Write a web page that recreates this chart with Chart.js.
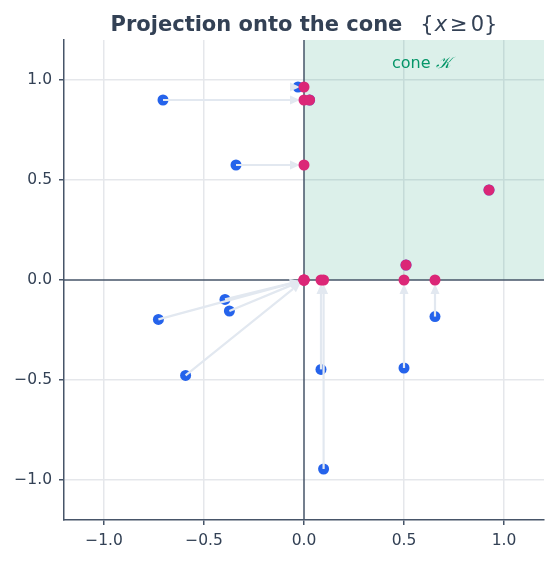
<!DOCTYPE html>
<html>
<head>
<meta charset="utf-8">
<script src="https://cdn.jsdelivr.net/npm/chart.js@4.4.1/dist/chart.umd.min.js"></script>
<style>
  html, body { margin: 0; padding: 0; background: #ffffff; }
  canvas { display: block; }
</style>
</head>
<body>
<canvas id="coneChart" width="556" height="562"></canvas>
<script>
// original points (blue) and their projections onto {x >= 0} (pink)
const origX = [-0.705, -0.03, 0.028, -0.34, 0.925, 0.51, -0.395, -0.373, -0.728, -0.592, 0.085, 0.098, 0.5, 0.655];
const origY = [0.9, 0.965, 0.9, 0.575, 0.45, 0.075, -0.097, -0.155, -0.197, -0.477, -0.447, -0.945, -0.44, -0.183];
const projX = [0, 0, 0.028, 0, 0.925, 0.51, 0, 0, 0, 0, 0.085, 0.098, 0.5, 0.655];
const projY = [0.9, 0.965, 0.9, 0.575, 0.45, 0.075, 0, 0, 0, 0, 0, 0, 0, 0];
const tickValues = [-1, -0.5, 0, 0.5, 1];

const BLUE = '#2563eb';
const PINK = '#db2777';
const SLATE = '#334155';
const AXIS = '#475569';
const GRID = '#e5e7eb';

const fmt = v => v.toFixed(1).replace('-', '\u2212');

const conePlugin = {
    id: 'cone',
    beforeDatasetsDraw(chart) {
        const {ctx, chartArea: a, scales: {x, y}} = chart;
        const x0 = x.getPixelForValue(0);
        const y0 = y.getPixelForValue(0);
        ctx.save();
        ctx.fillStyle = 'rgba(5,150,105,0.14)';
        ctx.fillRect(x0, a.top, a.right - x0, y0 - a.top);

        ctx.strokeStyle = AXIS;
        ctx.lineWidth = 1.5;
        ctx.beginPath();
        ctx.moveTo(x0, a.top); ctx.lineTo(x0, a.bottom);
        ctx.moveTo(a.left, y0); ctx.lineTo(a.right, y0);
        ctx.stroke();

        ctx.fillStyle = '#059669';
        ctx.textBaseline = 'middle';
        ctx.textAlign = 'left';
        ctx.font = '16px "DejaVu Sans"';
        const lx = x.getPixelForValue(0.44);
        const ly = y.getPixelForValue(1.08);
        ctx.fillText('cone ', lx, ly);
        const w = ctx.measureText('cone ').width;
        ctx.font = 'italic 16px "DejaVu Serif"';
        ctx.fillText('\u{1D4A6}', lx + w, ly);
        ctx.restore();
    }
};

const arrowPlugin = {
    id: 'arrows',
    afterDatasetDraw(chart, args) {
        if (args.index !== 1) return;
        const {ctx, scales: {x, y}} = chart;
        ctx.save();
        ctx.strokeStyle = '#e2e8f0';
        ctx.fillStyle = '#e2e8f0';
        ctx.lineWidth = 2.2;
        const headLen = 10, headW = 4.5, shrink = 4;
        for (let i = 0; i < origX.length; i++) {
            if (origX[i] === projX[i] && origY[i] === projY[i]) continue;
            const sx = x.getPixelForValue(origX[i]);
            const sy = y.getPixelForValue(origY[i]);
            const tx = x.getPixelForValue(projX[i]);
            const ty = y.getPixelForValue(projY[i]);
            const dx = tx - sx, dy = ty - sy;
            const len = Math.hypot(dx, dy);
            const ux = dx / len, uy = dy / len;
            const ex = tx - ux * shrink, ey = ty - uy * shrink;
            const bx = ex - ux * headLen, by = ey - uy * headLen;
            if (len > headLen + shrink) {
                ctx.beginPath();
                ctx.moveTo(sx, sy);
                ctx.lineTo(bx, by);
                ctx.stroke();
            }
            ctx.beginPath();
            ctx.moveTo(ex, ey);
            ctx.lineTo(bx - uy * headW, by + ux * headW);
            ctx.lineTo(bx + uy * headW, by - ux * headW);
            ctx.closePath();
            ctx.fill();
        }
        ctx.restore();
    }
};

const titlePlugin = {
    id: 'mathTitle',
    afterDraw(chart) {
        const {ctx, chartArea: a} = chart;
        const cx = (a.left + a.right) / 2;
        const ty = 31;
        const boldFont = 'bold 21px "DejaVu Sans"';
        const regFont = '21px "DejaVu Sans"';
        const itFont = 'italic 21px "DejaVu Sans"';
        // [text, font, extra gap after]
        const parts = [
            ['Projection onto the cone', boldFont, 18],
            ['{', regFont, 1],
            ['x', itFont, 3],
            ['\u2265', regFont, 3],
            ['0}', regFont, 0]
        ];
        ctx.save();
        ctx.fillStyle = SLATE;
        ctx.textBaseline = 'alphabetic';
        ctx.textAlign = 'left';
        let total = 0;
        const widths = parts.map(([t, f, g]) => { ctx.font = f; const w = ctx.measureText(t).width + g; total += w; return w; });
        let px = cx - total / 2;
        parts.forEach(([t, f], i) => {
            ctx.font = f;
            ctx.fillText(t, px, ty);
            px += widths[i];
        });
        ctx.restore();
    }
};

const axisCommon = {
    type: 'linear',
    min: -1.2,
    max: 1.2,
    afterBuildTicks: axis => { axis.ticks = tickValues.map(v => ({value: v})); },
    grid: {
        color: c => (c.tick && c.tick.value === 0) ? 'rgba(0,0,0,0)' : GRID,
        lineWidth: 1.5,
        tickLength: 5,
        tickColor: AXIS,
        tickWidth: 1.5
    },
    border: { display: true, color: AXIS, width: 1.5 },
    ticks: {
        color: SLATE,
        font: { family: '"DejaVu Sans"', size: 15.5 },
        padding: 7,
        callback: v => fmt(v)
    }
};

new Chart(document.getElementById('coneChart'), {
    type: 'scatter',
    data: {
        datasets: [
            {
                label: 'projection',
                data: projX.map((v, i) => ({x: v, y: projY[i]})),
                backgroundColor: PINK,
                pointRadius: 5.5,
                borderWidth: 0,
                order: 0
            },
            {
                label: 'original',
                data: origX.map((v, i) => ({x: v, y: origY[i]})),
                backgroundColor: BLUE,
                pointRadius: 5.5,
                borderWidth: 0,
                order: 1
            }
        ]
    },
    options: {
        responsive: false,
        animation: false,
        events: [],
        layout: { padding: { top: 40, right: 12, left: 0, bottom: 0 } },
        plugins: {
            legend: { display: false },
            title: { display: false },
            tooltip: { enabled: false }
        },
        scales: {
            x: Object.assign({}, axisCommon, {
                position: 'bottom',
                afterFit: s => { s.height = 42; }
            }),
            y: Object.assign({}, axisCommon, {
                position: 'left',
                afterFit: s => { s.width = 64; }
            })
        }
    },
    plugins: [conePlugin, arrowPlugin, titlePlugin]
});
</script>
</body>
</html>
